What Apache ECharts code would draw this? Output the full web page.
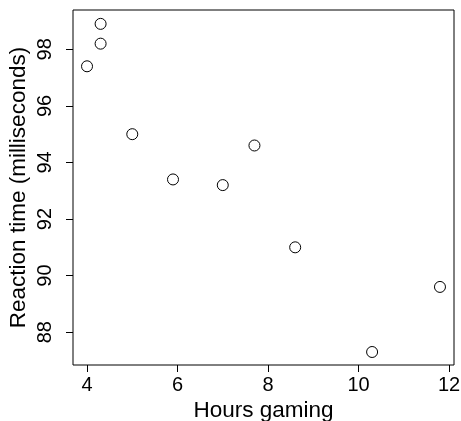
<!DOCTYPE html>
<html>
<head>
<meta charset="utf-8">
<script src="https://cdn.jsdelivr.net/npm/echarts@6/dist/echarts.min.js"></script>
<style>html,body{margin:0;padding:0;background:#fff;}#c{width:461px;height:421px;}</style>
</head>
<body>
<div id="c"></div>
<script>
const hours = [4.0, 4.3, 4.3, 5.0, 5.9, 7.0, 7.7, 8.6, 10.3, 11.8];
const reactionTime = [97.4, 98.9, 98.2, 95.0, 93.4, 93.2, 94.6, 91.0, 87.3, 89.6];
const xTicks = [4, 6, 8, 10, 12];
const yTicks = [88, 90, 92, 94, 96, 98];

const chart = echarts.init(document.getElementById('c'), null, {renderer: 'canvas'});
const font = 'Liberation Sans, Arial, sans-serif';
chart.setOption({
  animation: false,
  backgroundColor: '#fff',
  grid: {left: 73, right: 7, top: 10, bottom: 56, show: true, borderColor: '#000', borderWidth: 1, backgroundColor: 'transparent', containLabel: false, outerBoundsMode: 'none'},
  xAxis: {
    type: 'value', min: 3.69, max: 12.11,
    name: 'Hours gaming', nameLocation: 'middle', nameGap: 34, nameMoveOverlap: false,
    nameTextStyle: {fontFamily: font, fontSize: 22.5, color: '#000'},
    axisLine: {show: false},
    axisTick: {show: true, inside: false, length: 7, customValues: xTicks, lineStyle: {color: '#000', width: 1}},
    axisLabel: {customValues: xTicks, margin: 10, fontFamily: font, fontSize: 20, color: '#000'},
    splitLine: {show: false}
  },
  yAxis: {
    type: 'value', min: 86.84, max: 99.39,
    name: 'Reaction time (milliseconds)', nameLocation: 'middle', nameGap: 43, nameMoveOverlap: false,
    nameTextStyle: {fontFamily: font, fontSize: 22.5, color: '#000'},
    axisLine: {show: false},
    axisTick: {show: true, inside: false, length: 7, customValues: yTicks, lineStyle: {color: '#000', width: 1}},
    axisLabel: {customValues: yTicks, rotate: 90, margin: 18, fontFamily: font, fontSize: 20, color: '#000'},
    splitLine: {show: false}
  },
  series: [{
    type: 'scatter',
    data: hours.map((h, i) => [h, reactionTime[i]]),
    symbol: 'circle', symbolSize: 11,
    itemStyle: {color: '#fff', borderColor: '#000', borderWidth: 1, opacity: 1}
  }]
});
</script>
</body>
</html>
